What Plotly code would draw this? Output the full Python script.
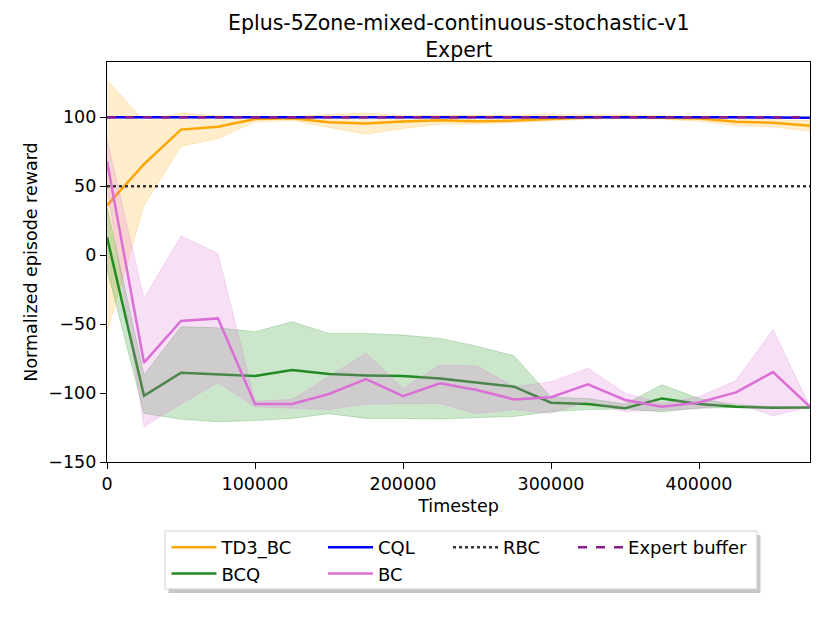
import plotly.graph_objects as go

timesteps = [i * 25000 for i in range(20)]

td3_mean = [36, 66, 91, 93, 98.6, 99.3, 96.4, 95.4, 96.9, 97.8, 97, 97.5, 98.6, 99.8, 100.2, 99.8, 99, 96.6, 95.9, 93.7]
td3_upper = [127, 97, 103, 101, 100, 100.5, 102, 103, 101, 101, 101, 101.5, 102, 102, 101.5, 101, 100.5, 99, 98.5, 97.5]
td3_lower = [-56, 36, 79, 84.5, 96.6, 97.5, 92.5, 87.7, 91.8, 95, 95, 96, 97.5, 98.5, 99, 98.5, 97, 94, 93, 90]

cql_mean = [100, 100, 100.5, 100, 100, 100, 100, 100, 100, 100, 100, 100, 100, 100, 100, 100, 100, 100, 99.8, 99.5]

bcq_mean = [13, -102, -85.3, -86.5, -87.7, -83.3, -86.2, -87.2, -87.7, -89.4, -92.3, -95.4, -107, -108, -111, -103.9, -108, -110, -110.6, -110.4]
bcq_upper = [35, -87, -52, -52.7, -55.6, -48.3, -56.8, -56.8, -58, -60.4, -66, -73, -103, -104, -108, -94, -104, -108.5, -110, -110]
bcq_lower = [-10, -114.7, -119, -120.8, -120, -118.4, -115, -118.4, -118.4, -118.8, -118, -117, -113.5, -112, -111.5, -113.5, -111, -110.5, -111, -110.6]

bc_mean = [68, -78, -47.8, -45.9, -108, -108, -100.7, -89.9, -102.2, -93, -97.8, -104.6, -103, -93.7, -105, -110, -106.8, -99.5, -84.8, -110]
bc_upper = [84, -31.4, 13.8, 1.2, -106, -104.6, -88, -71, -96.6, -79.7, -80.4, -95.4, -91.8, -82, -100, -107.5, -102.7, -91, -53.9, -110]
bc_lower = [50, -124.4, -108, -92.5, -110, -111, -112, -108, -108, -107.5, -115, -112, -114.7, -106, -113.5, -112, -111, -107.5, -116.4, -110]

rbc_level = [50] * 20
expert_level = [100] * 20

x_ticks = [0, 100000, 200000, 300000, 400000]
y_ticks = [-150, -100, -50, 0, 50, 100]

title_text = "Eplus-5Zone-mixed-continuous-stochastic-v1<br>Expert"

fig = go.Figure()


def band(x, lo, hi, rgba):
    fig.add_trace(go.Scatter(
        x=x + x[::-1], y=hi + lo[::-1], fill="toself", fillcolor=rgba,
        line=dict(color=rgba, width=1), mode="lines", showlegend=False, hoverinfo="skip"))


LW = 2.5
band(timesteps, td3_lower, td3_upper, "rgba(255,165,0,0.2)")
fig.add_trace(go.Scatter(x=timesteps, y=td3_mean, mode="lines", name="TD3_BC",
                         line=dict(color="#FFA500", width=LW), legend="legend"))
band(timesteps, bcq_lower, bcq_upper, "rgba(0,128,0,0.2)")
fig.add_trace(go.Scatter(x=timesteps, y=bcq_mean, mode="lines", name="BCQ",
                         line=dict(color="#228B22", width=LW), legend="legend"))
fig.add_trace(go.Scatter(x=timesteps, y=cql_mean, mode="lines", name="CQL",
                         line=dict(color="#0000FF", width=LW), legend="legend2"))
band(timesteps, bc_lower, bc_upper, "rgba(218,112,214,0.22)")
fig.add_trace(go.Scatter(x=timesteps, y=bc_mean, mode="lines", name="BC",
                         line=dict(color="#DA70D6", width=LW), legend="legend2"))
fig.add_trace(go.Scatter(x=timesteps, y=rbc_level, mode="lines", name="RBC",
                         line=dict(color="#333333", width=LW, dash="dot"), legend="legend3"))
fig.add_trace(go.Scatter(x=timesteps, y=expert_level, mode="lines", name="Expert buffer",
                         line=dict(color="#8B1A8B", width=LW, dash="dash"), legend="legend4"))

axis_common = dict(showline=True, linecolor="black", linewidth=1.3, mirror=True,
                   ticks="outside", ticklen=6, tickcolor="black", showgrid=False,
                   zeroline=False, tickfont=dict(size=17.5, color="black"))

# legend frame (box + soft shadow) in paper coordinates
lx0, lx1, ly0, ly1 = 0.0825, 0.9245, -0.3175, -0.1725
fig.add_shape(type="rect", xref="paper", yref="paper", x0=lx0 + 0.005, x1=lx1 + 0.005,
              y0=ly0 - 0.01, y1=ly1 - 0.01, fillcolor="rgba(0,0,0,0.22)", line=dict(width=0))
fig.add_shape(type="rect", xref="paper", yref="paper", x0=lx0, x1=lx1, y0=ly0, y1=ly1,
              fillcolor="white", line=dict(color="#d0d0d0", width=1))

fig.add_annotation(text=title_text, xref="paper", yref="paper", x=0.5, y=1,
                   xanchor="center", yanchor="bottom", yshift=-2, showarrow=False,
                   font=dict(size=20.5, color="black"))

leg_common = dict(orientation="v", xanchor="left", yanchor="top", y=-0.1675,
                  bgcolor="rgba(0,0,0,0)", borderwidth=0, font=dict(size=18),
                  itemwidth=45)

fig.update_layout(
    width=830, height=623,
    paper_bgcolor="white", plot_bgcolor="white",
    font=dict(family="DejaVu Sans", color="black"),
    margin=dict(l=99, r=28, t=54, b=169),
    xaxis=dict(range=[0, 475000], tickvals=x_ticks, ticktext=[str(v) for v in x_ticks],
               title=dict(text="Timestep", font=dict(size=17.5), standoff=6), **axis_common),
    yaxis=dict(range=[-150, 140], tickvals=y_ticks,
               title=dict(text="Normalized episode reward", font=dict(size=17.5), standoff=6),
               **axis_common),
    legend=dict(x=0.0846, **leg_common),
    legend2=dict(x=0.3073, **leg_common),
    legend3=dict(x=0.4851, **leg_common),
    legend4=dict(x=0.6629, **leg_common),
    showlegend=True,
)

fig.write_html("out.html")
